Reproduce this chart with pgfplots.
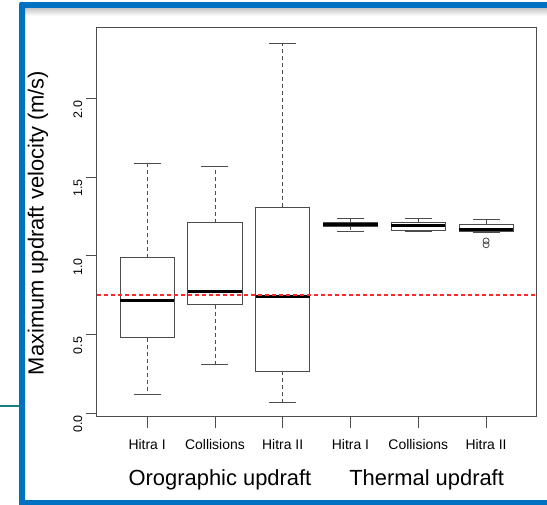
\documentclass[border=0pt]{standalone}
\usepackage{fontspec}
\setmainfont{Liberation Sans}
\usepackage{pgfplots}
\pgfplotsset{compat=1.18}
\usepgfplotslibrary{statistics}
\definecolor{frameblue}{RGB}{0,112,192}
\definecolor{edge}{gray}{0.3}
\definecolor{refred}{RGB}{255,40,40}

\pgfplotsset{
  boxplot/draw direction=y,
  boxplot/box extend=0.8,
  boxplot/whisker extend=0.4,
  boxplot/every box/.style={draw=edge,line width=0.8bp,fill=white},
  boxplot/every median/.style={line width=3bp,black},
  boxplot/draw/whisker/.code 2 args={
    \draw[edge,line width=0.8bp,dash pattern=on 4bp off 3bp] (boxplot cs:#1) -- (boxplot cs:#2);
    \draw[edge,line width=0.8bp] (boxplot whisker cs:#2,0) -- (boxplot whisker cs:#2,1);
  },
}

\begin{document}
\begin{tikzpicture}[x=1bp,y=1bp]
\useasboundingbox (0,0) rectangle (547,505);
% slide frame around the screenshot
\fill[top color=gray!45,bottom color=white] (25,489) rectangle (547,497);
\fill[frameblue,rounded corners=2bp] (19,0) rectangle (25,503);
\fill[frameblue] (22,497) rectangle (547,503);
\fill[frameblue] (19,0) rectangle (547,5);
\draw[teal!80!gray,line width=1.2bp] (0,99) -- (19,99);

\begin{axis}[
  at={(96.7bp,88.3bp)}, anchor=south west, scale only axis,
  width=439.8bp, height=389.4bp,
  xmin=0.256, xmax=6.744, ymin=-0.022, ymax=2.452,
  axis line style={edge,line width=0.8bp},
  tick pos=left, tick align=outside, major tick length=11bp,
  tick style={edge,line width=0.8bp},
  xtick={1,...,6},
  xticklabels={Hitra I,Collisions,Hitra II,Hitra I,Collisions,Hitra II},
  ytick={0,0.5,...,2}, yticklabels={0.0,0.5,1.0,1.5,2.0},
  xticklabel style={font=\fontsize{14}{16}\selectfont,yshift=-8bp},
  yticklabel style={font=\fontsize{12.5}{14}\selectfont,rotate=90,anchor=south,xshift=-11bp},
]
% orographic updraft
\addplot[boxplot prepared={draw position=1, lower whisker=0.119, lower quartile=0.48,
  median=0.715, upper quartile=0.987, upper whisker=1.585}] coordinates {};
\addplot[boxplot prepared={draw position=2, lower whisker=0.31, lower quartile=0.689,
  median=0.776, upper quartile=1.21, upper whisker=1.565}] coordinates {};
\addplot[boxplot prepared={draw position=3, lower whisker=0.07, lower quartile=0.268,
  median=0.74, upper quartile=1.31, upper whisker=2.35}] coordinates {};
% thermal updraft
\addplot[boxplot prepared={draw position=4, lower whisker=1.157, lower quartile=1.19,
  median=1.20, upper quartile=1.213, upper whisker=1.240}] coordinates {};
\addplot[boxplot prepared={draw position=5, lower whisker=1.157, lower quartile=1.163,
  median=1.195, upper quartile=1.211, upper whisker=1.240}] coordinates {};
\addplot[mark=o, mark size=3bp, mark options={edge,solid,line width=0.8bp},
  boxplot prepared={draw position=6, lower whisker=1.147, lower quartile=1.157,
  median=1.168, upper quartile=1.202, upper whisker=1.234}] coordinates {(0,1.095) (0,1.07)};
% reference line
\addplot[refred,line width=1.1bp,dash pattern=on 4bp off 3bp]
  coordinates {(0.256,0.751) (6.744,0.751)};
\end{axis}

\node[rotate=90,font=\fontsize{22}{26}\selectfont] at (38,282) {Maximum updraft velocity (m/s)};
\node[font=\fontsize{22}{26}\selectfont] at (220,25.5) {Orographic updraft};
\node[font=\fontsize{22}{26}\selectfont] at (426.6,25.5) {Thermal updraft};
\end{tikzpicture}
\end{document}
